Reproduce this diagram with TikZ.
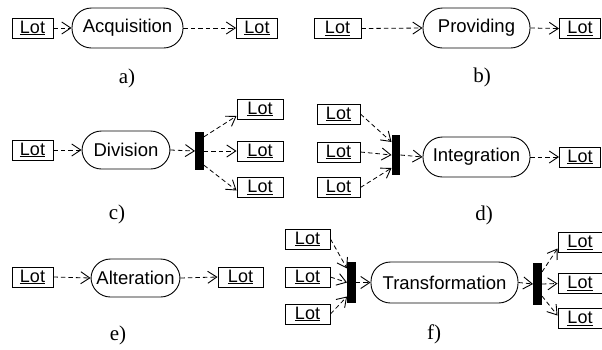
\documentclass[tikz,border=0pt]{standalone}
\usepackage{fontspec}
\setmainfont{Liberation Serif}
\setsansfont{Liberation Sans}
\usetikzlibrary{arrows.meta,calc}

\newcommand\lotname{\underline{Lot}}

\tikzset{
  lot/.style={draw, line width=0.9pt, minimum width=44pt, minimum height=20pt,
    inner sep=0pt, font=\sffamily\fontsize{18}{18}\selectfont},
  activity/.style={draw, line width=0.9pt, rounded corners=19.5pt, inner sep=0pt,
    minimum height=40pt, font=\sffamily\fontsize{18.5}{18.5}\selectfont},
  forkbar/.style={fill=black, draw=none, minimum width=8.5pt, minimum height=40pt, inner sep=0pt},
  flow/.style={line width=0.8pt, dash pattern=on 4.5pt off 3pt,
    -{Straight Barb[length=9pt,width=12pt,line width=0.9pt]}},
  caption/.style={font=\fontsize{21}{21}\selectfont, inner sep=0pt}
}

\begin{document}
\begin{tikzpicture}[x=1pt, y=-1pt]
\fill[white] (0,0) rectangle (602,349);
\useasboundingbox (0,0) rectangle (602,349);

% a) acquisition
\node[lot, minimum width=41pt] (a1) at (32.5,28) {\lotname};
\node[activity, minimum width=111pt] (acq) at (127.5,28) {Acquisition};
\node[lot, minimum width=41pt] (a2) at (257,28) {\lotname};
\draw[flow] (a1.east) -- (acq.west);
\draw[flow] (acq.east) -- (a2.west);
\node[caption] (capa) at (127,78) {a)};

% b) providing
\node[lot, minimum width=47pt] (b1) at (337.5,28.5) {\lotname};
\node[activity, minimum width=107pt] (prov) at (476.5,28) {Providing};
\node[lot, minimum width=41pt] (b2) at (580,28.5) {\lotname};
\draw[flow] (b1.east) -- (prov.west);
\draw[flow] (prov.east) -- (b2.west);
\node[caption] (capb) at (482,77) {b)};

% c) division
\node[lot, minimum width=41pt] (c1) at (32.5,150) {\lotname};
\node[activity, minimum width=88pt, minimum height=38pt] (div) at (126,150) {Division};
\node[forkbar, minimum height=38pt] (cbar) at (199.5,151) {};
\node[lot, minimum width=46pt] (c2) at (260,109) {\lotname};
\node[lot, minimum width=46pt] (c3) at (260,151) {\lotname};
\node[lot, minimum width=46pt] (c4) at (260,187.5) {\lotname};
\draw[flow] (c1.east) -- (div.west);
\draw[flow] (div.east) -- (cbar.west);
\draw[flow] ($(cbar.north east)+(0,5)$) -- ($(c2.west)+(0,7)$);
\draw[flow] (cbar.east) -- (c3.west);
\draw[flow] ($(cbar.south east)+(0,-5)$) -- ($(c4.west)+(0,3)$);
\node[caption] (capc) at (117,214) {c)};

% d) integration
\node[lot, minimum width=43pt] (d1) at (338.5,114) {\lotname};
\node[lot, minimum width=43pt] (d2) at (338.5,152) {\lotname};
\node[lot, minimum width=43pt] (d3) at (338.5,187.5) {\lotname};
\node[forkbar] (dbar) at (396,155) {};
\node[activity, minimum width=107pt] (integ) at (476.5,157) {Integration};
\node[lot, minimum width=41pt] (d4) at (580,157) {\lotname};
\draw[flow] (d1.east) -- ($(dbar.west)+(0,-13)$);
\draw[flow] (d2.east) -- ($(dbar.west)+(0,0)$);
\draw[flow] (d3.east) -- ($(dbar.west)+(0,13)$);
\draw[flow] (dbar.east) -- (integ.west);
\draw[flow] (integ.east) -- (d4.west);
\node[caption] (capd) at (484,215) {d)};

% e) alteration
\node[lot, minimum width=41pt] (e1) at (32.5,277) {\lotname};
\node[activity, minimum width=89pt, minimum height=38pt] (alt) at (135.5,278) {Alteration};
\node[lot, minimum width=45pt] (e2) at (240.5,277) {\lotname};
\draw[flow] (e1.east) -- (alt.west);
\draw[flow] (alt.east) -- (e2.west);
\node[caption] (cape) at (118,335) {e)};

% f) transformation
\node[lot, minimum width=45pt] (f1) at (307.5,239) {\lotname};
\node[lot, minimum width=45pt] (f2) at (307.5,277) {\lotname};
\node[lot, minimum width=45pt] (f3) at (307.5,314) {\lotname};
\node[forkbar, minimum height=41pt] (fbar1) at (351.5,282.5) {};
\node[activity, minimum width=147pt, minimum height=41pt] (trans) at (444.5,282.5) {Transformation};
\node[forkbar, minimum height=42pt] (fbar2) at (537.5,284) {};
\node[lot, minimum width=44pt] (f4) at (580,242.5) {\lotname};
\node[lot, minimum width=44pt] (f5) at (580,283.5) {\lotname};
\node[lot, minimum width=44pt] (f6) at (580,318.5) {\lotname};
\draw[flow] (f1.east) -- ($(fbar1.west)+(0,-14)$);
\draw[flow] (f2.east) -- ($(fbar1.west)+(0,0)$);
\draw[flow] (f3.east) -- ($(fbar1.west)+(0,14)$);
\draw[flow] (fbar1.east) -- (trans.west);
\draw[flow] (trans.east) -- (fbar2.west);
\draw[flow] ($(fbar2.east)+(0,-12)$) -- ($(f4.west)+(0,6)$);
\draw[flow] (fbar2.east) -- (f5.west);
\draw[flow] ($(fbar2.east)+(0,12)$) -- ($(f6.west)+(0,-3)$);
\node[caption] (capf) at (434,334) {f)};
\end{tikzpicture}
\end{document}
